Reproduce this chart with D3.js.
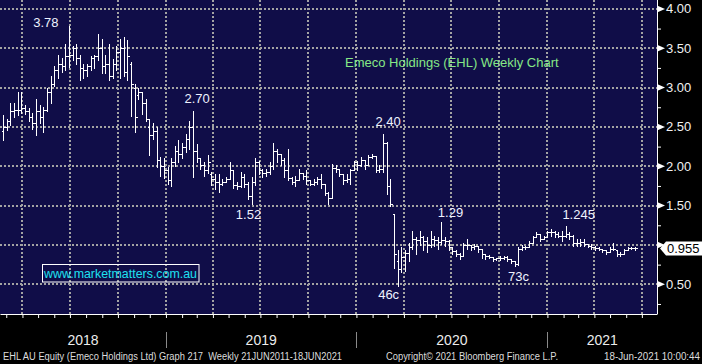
<!DOCTYPE html>
<html>
<head>
<meta charset="utf-8">
<script src="https://cdn.jsdelivr.net/npm/d3@7"></script>
<style>
  html, body { margin: 0; padding: 0; background: #000; }
  svg { display: block; font-family: Arial, "Liberation Sans", sans-serif; }
</style>
</head>
<body>
<svg id="chart" width="702" height="364"></svg>
<script>
// weekly bars, Friday to Friday
const firstWeek = new Date(2018, 1, 23);
const lastWeek = new Date(2021, 5, 18);

const opens = [
  2.45, 2.50, 2.58, 2.70, 2.72, 2.72, 2.74, 2.70, 2.62, 2.55, 2.70, 2.62, 2.72, 2.95, 3.05, 3.22, 3.30, 3.28, 3.40, 3.42,
  3.50, 3.38, 3.25, 3.22, 3.28, 3.38, 3.40, 3.50, 3.28, 3.30, 3.15, 3.30, 3.45, 3.50, 3.20, 3.30, 3.00, 2.90, 2.95, 2.80,
  2.50, 2.40, 2.45, 2.08, 2.00, 1.95, 1.82, 2.05, 2.20, 2.15, 2.25, 2.35, 2.50, 2.20, 2.10, 2.02, 1.95, 1.90, 1.84, 1.80,
  1.78, 1.80, 1.84, 1.95, 1.76, 1.75, 1.86, 1.78, 1.62, 1.80, 2.05, 1.95, 1.92, 1.93, 2.00, 2.20, 2.15, 2.08, 1.95, 1.85,
  1.80, 1.82, 1.92, 1.88, 1.82, 1.78, 1.80, 1.84, 1.78, 1.66, 1.60, 1.98, 1.97, 1.90, 1.82, 1.84, 1.95, 2.05, 2.02, 2.08,
  2.01, 2.12, 2.13, 1.95, 1.97, 2.30, 1.75, 1.39, 0.80, 0.70, 0.85, 0.90, 0.98, 1.08, 1.06, 1.10, 1.05, 1.00, 1.08, 1.06,
  1.04, 1.06, 1.05, 0.97, 0.92, 0.88, 0.86, 1.00, 1.00, 0.97, 0.99, 0.95, 0.88, 0.86, 0.85, 0.82, 0.83, 0.84, 0.85, 0.82,
  0.79, 0.76, 0.95, 0.98, 0.97, 1.03, 1.10, 1.14, 1.08, 1.10, 1.16, 1.16, 1.14, 1.12, 1.12, 1.14, 1.12, 1.03, 1.02, 1.04,
  1.01, 0.99, 0.97, 0.96, 0.95, 0.93, 0.91, 0.95, 0.93, 0.88, 0.88, 0.93, 0.96, 0.96
];
const highs = [
  2.65, 2.60, 2.80, 2.80, 2.94, 2.94, 2.78, 2.74, 2.68, 2.86, 2.78, 2.75, 2.99, 3.15, 3.28, 3.41, 3.38, 3.55, 3.78, 3.53,
  3.56, 3.42, 3.30, 3.30, 3.40, 3.42, 3.68, 3.62, 3.42, 3.55, 3.36, 3.53, 3.62, 3.64, 3.60, 3.32, 3.05, 3.00, 2.95, 2.86,
  2.60, 2.55, 2.50, 2.12, 2.11, 1.99, 2.10, 2.26, 2.34, 2.30, 2.41, 2.58, 2.70, 2.28, 2.10, 2.05, 2.14, 1.93, 1.90, 1.90,
  1.84, 1.86, 2.05, 1.95, 1.80, 1.93, 1.90, 1.80, 1.86, 2.10, 2.07, 1.97, 1.97, 2.05, 2.29, 2.22, 2.16, 2.10, 2.22, 1.86,
  1.88, 1.97, 1.92, 1.95, 1.82, 1.84, 1.86, 1.90, 1.78, 1.67, 2.03, 2.01, 1.97, 1.90, 1.90, 1.97, 2.07, 2.07, 2.12, 2.08,
  2.14, 2.16, 2.13, 2.01, 2.41, 2.31, 1.84, 1.39, 0.93, 0.97, 0.93, 1.03, 1.18, 1.10, 1.18, 1.12, 1.10, 1.18, 1.12, 1.10,
  1.29, 1.10, 1.06, 0.97, 0.93, 0.90, 1.03, 1.08, 1.00, 1.01, 0.99, 0.95, 0.88, 0.87, 0.85, 0.84, 0.86, 0.86, 0.86, 0.82,
  0.80, 0.97, 1.00, 0.99, 1.05, 1.12, 1.16, 1.14, 1.12, 1.18, 1.20, 1.18, 1.16, 1.18, 1.245, 1.16, 1.13, 1.08, 1.08, 1.08,
  1.01, 1.01, 0.99, 0.97, 0.95, 0.93, 0.97, 1.03, 0.93, 0.91, 0.95, 0.97, 0.97, 0.97
];
const lows = [
  2.34, 2.46, 2.52, 2.63, 2.65, 2.68, 2.66, 2.58, 2.48, 2.40, 2.55, 2.44, 2.70, 2.80, 3.02, 3.12, 3.20, 3.22, 3.26, 3.35,
  3.30, 3.10, 3.12, 3.15, 3.22, 3.25, 3.35, 3.18, 3.18, 3.10, 3.12, 3.22, 3.12, 3.15, 3.10, 2.64, 2.43, 2.85, 2.67, 2.58,
  2.14, 2.35, 1.99, 1.88, 1.85, 1.78, 1.75, 2.00, 2.05, 2.10, 2.18, 2.22, 1.86, 2.06, 1.97, 1.88, 1.92, 1.76, 1.71, 1.67,
  1.76, 1.80, 1.84, 1.73, 1.71, 1.74, 1.74, 1.58, 1.52, 1.76, 1.90, 1.86, 1.88, 1.90, 1.97, 2.05, 2.02, 1.86, 1.82, 1.78,
  1.75, 1.82, 1.84, 1.77, 1.76, 1.76, 1.78, 1.72, 1.63, 1.52, 1.60, 1.93, 1.88, 1.78, 1.80, 1.78, 1.95, 1.95, 2.00, 1.97,
  2.01, 2.10, 1.93, 1.93, 1.93, 1.65, 1.50, 0.71, 0.48, 0.65, 0.67, 0.80, 0.95, 0.88, 1.00, 0.93, 0.91, 0.97, 0.99, 0.95,
  1.01, 0.99, 0.94, 0.89, 0.86, 0.82, 0.86, 0.95, 0.94, 0.95, 0.91, 0.84, 0.82, 0.83, 0.80, 0.81, 0.81, 0.82, 0.80, 0.77,
  0.73, 0.74, 0.93, 0.95, 0.97, 1.03, 1.10, 1.05, 1.07, 1.10, 1.12, 1.10, 1.10, 1.05, 1.10, 1.08, 0.99, 0.99, 0.99, 0.99,
  0.97, 0.95, 0.93, 0.93, 0.91, 0.89, 0.91, 0.93, 0.86, 0.86, 0.88, 0.93, 0.95, 0.94
];
const closes = [
  2.50, 2.58, 2.70, 2.72, 2.72, 2.74, 2.70, 2.62, 2.55, 2.70, 2.62, 2.72, 2.95, 3.05, 3.22, 3.30, 3.28, 3.40, 3.42, 3.50,
  3.38, 3.25, 3.22, 3.28, 3.38, 3.40, 3.50, 3.28, 3.30, 3.15, 3.30, 3.45, 3.50, 3.20, 3.40, 3.05, 2.62, 2.95, 2.80, 2.60,
  2.40, 2.45, 2.08, 2.00, 1.95, 1.82, 2.05, 2.20, 2.15, 2.25, 2.35, 2.50, 2.20, 2.10, 2.02, 1.95, 2.05, 1.84, 1.80, 1.78,
  1.80, 1.84, 1.95, 1.76, 1.75, 1.86, 1.78, 1.62, 1.80, 2.05, 1.95, 1.92, 1.93, 2.00, 2.20, 2.15, 2.08, 1.95, 1.85, 1.80,
  1.82, 1.92, 1.88, 1.82, 1.78, 1.80, 1.84, 1.78, 1.66, 1.60, 1.98, 1.97, 1.90, 1.82, 1.84, 1.95, 2.05, 2.02, 2.08, 2.01,
  2.12, 2.13, 1.95, 1.97, 2.30, 1.75, 1.52, 0.88, 0.70, 0.85, 0.90, 0.98, 1.08, 1.06, 1.10, 1.05, 1.00, 1.08, 1.06, 1.04,
  1.06, 1.05, 0.97, 0.92, 0.88, 0.86, 1.00, 1.00, 0.97, 0.99, 0.95, 0.88, 0.86, 0.85, 0.82, 0.83, 0.84, 0.85, 0.82, 0.79,
  0.76, 0.95, 0.98, 0.97, 1.03, 1.10, 1.14, 1.08, 1.10, 1.16, 1.16, 1.14, 1.12, 1.12, 1.14, 1.12, 1.03, 1.02, 1.04, 1.01,
  0.99, 0.97, 0.96, 0.95, 0.93, 0.91, 0.95, 0.95, 0.88, 0.88, 0.93, 0.96, 0.96, 0.955
];

const priceTicks = [0.5, 1, 1.5, 2, 2.5, 3, 3.5, 4];
const years = [2018, 2019, 2020, 2021];
const lastPrice = 0.955;

// highs and lows called out on the chart: week index, price, label
const callouts = [
  { week: 18, price: 3.78, label: '3.78' },
  { week: 52, price: 2.70, label: '2.70' },
  { week: 104, price: 2.41, label: '2.40' },
  { week: 68, price: 1.52, label: '1.52' },
  { week: 108, price: 0.48, label: '46c' },
  { week: 120, price: 1.29, label: '1.29' },
  { week: 154, price: 1.245, label: '1.245' },
  { week: 140, price: 0.73, label: '73c' }
];

const title = 'Emeco Holdings (EHL) Weekly Chart';
const website = 'www.marketmatters.com.au';
const footerLeft = 'EHL AU Equity (Emeco Holdings Ltd) Graph 217  Weekly 21JUN2011-18JUN2021';
const footerMid = 'Copyright\u00a9 2021 Bloomberg Finance L.P.';
const footerRight = '18-Jun-2021 10:00:44';

const svg = d3.select('#chart');
const plotW = 657, plotH = 314;

const xScale = d3.scaleTime()
  .domain([new Date(2018, 1, 17), new Date(2021, 6, 30)])
  .range([0, plotW]);
const yScale = d3.scaleLinear().domain([0.5, 4]).range([284.3, 8.9]);

const weeks = d3.timeFriday.range(firstWeek, d3.timeDay.offset(lastWeek, 1));
const bars = weeks.map((d, i) => ({ date: d, o: opens[i], h: highs[i], l: lows[i], c: closes[i] }));

svg.append('rect').attr('width', 702).attr('height', 364).attr('fill', '#000');
svg.append('rect').attr('width', plotW).attr('height', plotH).attr('fill', '#100d48');

// grid
const grid = svg.append('g')
  .attr('stroke', '#a3a3a3')
  .attr('stroke-width', 2)
  .attr('stroke-dasharray', '2,2');

grid.selectAll('.hgrid')
  .data(priceTicks)
  .enter().append('line')
  .attr('x1', 0).attr('x2', plotW)
  .attr('y1', d => Math.round(yScale(d))).attr('y2', d => Math.round(yScale(d)));

const quarters = d3.timeMonth.every(3).range(xScale.domain()[0], xScale.domain()[1]);
grid.selectAll('.vgrid')
  .data(quarters)
  .enter().append('line')
  .attr('x1', d => Math.round(xScale(d))).attr('x2', d => Math.round(xScale(d)))
  .attr('y1', 0).attr('y2', plotH);

// price bars
const px = d => Math.round(xScale(d)) + 0.5;
const py = v => Math.round(yScale(v)) + 0.5;
const barG = svg.append('g')
  .attr('stroke', '#fff')
  .attr('stroke-width', 1)
  .attr('shape-rendering', 'crispEdges');

barG.selectAll('.hl').data(bars).enter().append('line')
  .attr('x1', d => px(d.date)).attr('x2', d => px(d.date))
  .attr('y1', d => py(d.h) - 0.5).attr('y2', d => py(d.l) + 0.5);
barG.selectAll('.op').data(bars).enter().append('line')
  .attr('x1', d => px(d.date) - 2).attr('x2', d => px(d.date))
  .attr('y1', d => py(d.o)).attr('y2', d => py(d.o));
barG.selectAll('.cl').data(bars).enter().append('line')
  .attr('x1', d => px(d.date)).attr('x2', d => px(d.date) + 2)
  .attr('y1', d => py(d.c)).attr('y2', d => py(d.c));

// callout labels
const placement = {
  '3.78': { dx: -23, dy: 1 },
  '2.70': { dx: 4, dy: -8 },
  '2.40': { dx: 5, dy: -8 },
  '1.52': { dx: -3, dy: 15 },
  '46c': { dx: -9, dy: 13 },
  '1.29': { dx: 9, dy: -5 },
  '1.245': { dx: 13, dy: -7 },
  '73c': { dx: 4, dy: 15 }
};
svg.append('g').selectAll('text')
  .data(callouts)
  .enter().append('text')
  .attr('x', d => xScale(weeks[d.week]) + placement[d.label].dx)
  .attr('y', d => yScale(d.price) + placement[d.label].dy)
  .attr('text-anchor', 'middle')
  .attr('fill', '#eef2ff')
  .style('font-size', '13px')
  .text(d => d.label);

svg.append('text')
  .attr('x', 345).attr('y', 67)
  .attr('fill', '#86e886')
  .style('font-size', '13px')
  .text(title);

svg.append('rect')
  .attr('x', 42.5).attr('y', 264.5)
  .attr('width', 156.5).attr('height', 17.5)
  .attr('fill', 'none')
  .attr('stroke', '#fff');
svg.append('text')
  .attr('x', 44).attr('y', 278)
  .attr('fill', '#1ee0f0')
  .attr('textLength', 153)
  .attr('lengthAdjust', 'spacingAndGlyphs')
  .style('font-size', '13.5px')
  .text(website);

// bottom axis with month ticks
const xAxis = svg.append('g')
  .attr('transform', `translate(0,${plotH})`)
  .call(d3.axisBottom(xScale)
    .ticks(d3.timeMonth.every(1))
    .tickFormat('')
    .tickSize(4)
    .tickSizeOuter(0));
xAxis.selectAll('path, line').attr('stroke', '#fff');

years.forEach(yr => {
  const x0 = Math.max(xScale(new Date(yr, 0, 1)), 0);
  const x1 = Math.min(xScale(new Date(yr + 1, 0, 1)), plotW);
  svg.append('text')
    .attr('x', (x0 + x1) / 2).attr('y', 345)
    .attr('text-anchor', 'middle')
    .attr('fill', '#ececec')
    .style('font-size', '14px')
    .text(yr);
  if (yr > 2018) {
    const xs = Math.round(xScale(new Date(yr, 0, 1))) + 0.5;
    svg.append('line')
      .attr('x1', xs).attr('x2', xs)
      .attr('y1', 332).attr('y2', 348)
      .attr('stroke', '#8a8a8a');
  }
});

// right price axis
const yAxis = svg.append('g')
  .attr('transform', `translate(${plotW},0)`)
  .call(d3.axisRight(yScale)
    .tickValues(d3.range(0.25, 4.26, 0.25))
    .tickFormat('')
    .tickSize(4)
    .tickSizeOuter(0));
yAxis.select('.domain').attr('d', `M0.5,0V${plotH}`);
yAxis.selectAll('path, line').attr('stroke', '#fff');

svg.append('g').selectAll('path')
  .data(priceTicks)
  .enter().append('path')
  .attr('d', d => {
    const y = yScale(d);
    return `M${plotW},${y - 3.5}L${plotW + 8},${y}L${plotW},${y + 3.5}Z`;
  })
  .attr('fill', '#fff');

// the last-price marker sits over any tick label that is too close to it
const ly = yScale(lastPrice);
svg.append('g').selectAll('text')
  .data(priceTicks.filter(d => Math.abs(yScale(d) - ly) > 14))
  .enter().append('text')
  .attr('x', plotW + 9)
  .attr('y', d => yScale(d) + 4.5)
  .attr('fill', '#f2f2f2')
  .style('font-size', '13px')
  .text(d => d.toFixed(2));

// last price marker
svg.append('path')
  .attr('d', `M${plotW + 3},${ly}L${plotW + 9},${ly - 7}H702V${ly + 7}H${plotW + 9}Z`)
  .attr('fill', '#fff');
svg.append('text')
  .attr('x', plotW + 10).attr('y', ly + 4.5)
  .attr('fill', '#000')
  .style('font-size', '13px')
  .text(lastPrice.toFixed(3));

// footer
const footer = [
  { text: footerLeft, x: 3, len: 339 },
  { text: footerMid, x: 386, len: 172 },
  { text: footerRight, x: 604, len: 96 }
];
svg.append('g').selectAll('text')
  .data(footer)
  .enter().append('text')
  .attr('x', d => d.x).attr('y', 360)
  .attr('fill', '#dcdcdc')
  .attr('textLength', d => d.len)
  .attr('lengthAdjust', 'spacingAndGlyphs')
  .style('font-size', '10px')
  .style('white-space', 'pre')
  .text(d => d.text);
</script>
</body>
</html>
